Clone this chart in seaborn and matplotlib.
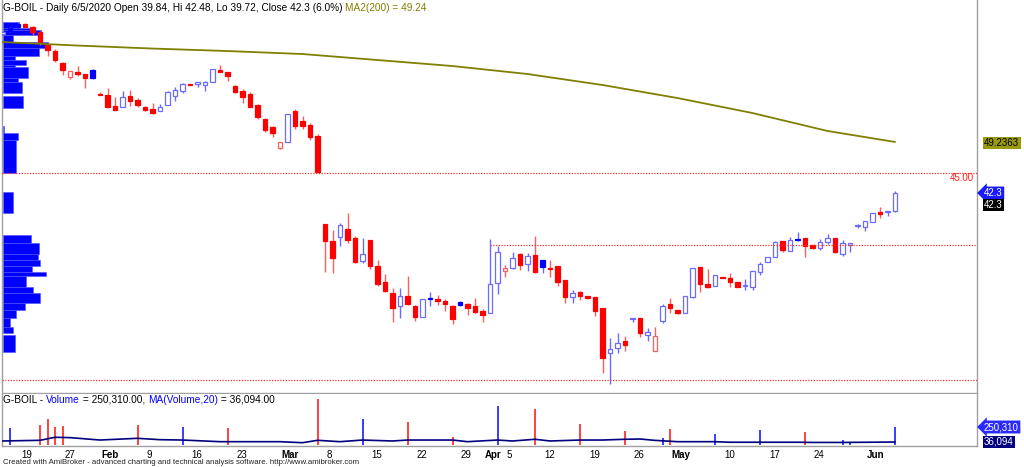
import numpy as np
import matplotlib
matplotlib.use('Agg')
import matplotlib.pyplot as plt
import matplotlib.transforms as mtransforms
from matplotlib.text import Annotation
import seaborn as sns

sns.set_style('white')
plt.rcParams['font.family'] = ['Liberation Sans', 'DejaVu Sans']

# daily OHLC (bar 0 = mid January, bar 119 = 6/5/2020)
opens = [63.99, 64.75, 65.40, 65.35, 64.98, 64.30, 62.48, 61.70, 60.07, 58.07,
         58.84, 58.48, 59.07, 55.79, 55.65, 54.15, 53.97, 55.52, 54.97, 54.05,
         53.70, 53.51, 54.29, 55.52, 56.24, 57.16, 57.11, 57.02, 57.39, 59.07,
         58.75, 56.88, 56.24, 55.79, 54.29, 52.37, 51.32, 48.37, 49.19, 53.51,
         52.14, 51.56, 50.09, 38.03, 35.71, 36.30, 37.35, 36.08, 32.98, 35.85,
         32.30, 30.07, 28.56, 26.83, 28.24, 26.87, 25.37, 27.88, 27.75, 27.55,
         26.83, 27.42, 27.06, 26.83, 26.15, 25.83, 29.93, 31.65, 31.98, 33.93,
         32.57, 33.80, 33.11, 32.06, 32.30, 30.38, 28.10, 28.78, 28.20, 28.02,
         26.52, 20.37, 21.05, 22.09, 24.99, 25.15, 22.83, 20.73, 24.78, 27.10,
         26.28, 25.83, 28.02, 32.20, 29.84, 29.60, 30.75, 30.70, 30.11, 29.52,
         29.47, 31.52, 32.80, 33.48, 35.71, 34.38, 35.94, 36.16, 35.16, 34.71,
         35.61, 36.08, 33.93, 35.16, 37.72, 37.66, 38.35, 39.71, 39.63, 39.84]
highs = [64.40, 64.90, 65.50, 65.49, 65.08, 64.40, 62.55, 61.94, 60.16, 59.00,
         59.61, 58.52, 59.20, 56.10, 56.57, 55.34, 56.20, 56.34, 55.20, 54.15,
         54.52, 54.42, 56.20, 56.70, 57.33, 57.16, 57.43, 57.50, 59.20, 59.75,
         58.80, 57.02, 56.43, 56.10, 54.42, 52.51, 51.42, 49.27, 53.06, 53.70,
         52.83, 51.87, 50.28, 38.10, 37.21, 38.21, 39.49, 36.43, 36.08, 35.85,
         33.11, 31.16, 29.25, 29.25, 30.93, 26.97, 27.79, 28.70, 28.33, 27.75,
         26.97, 27.51, 27.20, 27.88, 26.42, 35.98, 35.07, 32.43, 34.25, 34.07,
         34.03, 36.39, 33.11, 33.11, 32.30, 30.38, 29.01, 28.88, 28.20, 28.06,
         26.56, 22.42, 23.18, 22.73, 25.19, 25.19, 23.78, 23.92, 27.10, 27.88,
         26.35, 28.20, 32.02, 32.20, 31.84, 31.06, 30.75, 31.38, 30.11, 30.48,
         31.61, 32.88, 33.52, 35.71, 35.71, 36.30, 36.90, 36.16, 35.16, 35.94,
         36.63, 36.12, 35.85, 35.48, 38.03, 38.48, 39.58, 40.39, 39.85, 42.48]
lows = [63.85, 64.30, 64.90, 64.81, 63.85, 62.48, 61.02, 60.12, 58.39, 57.84,
        58.25, 56.57, 57.84, 55.59, 53.88, 53.54, 53.97, 54.15, 53.97, 53.47,
        53.02, 53.51, 54.29, 54.87, 55.97, 57.02, 56.70, 56.24, 57.39, 58.80,
        57.57, 55.97, 54.52, 53.97, 52.33, 50.64, 49.96, 48.24, 49.19, 51.01,
        50.97, 49.51, 45.13, 31.52, 31.38, 35.07, 35.48, 32.66, 32.66, 31.89,
        29.60, 28.70, 24.69, 25.15, 26.97, 24.82, 25.33, 26.83, 26.97, 26.15,
        24.33, 26.83, 25.60, 25.87, 24.69, 25.83, 28.43, 30.83, 31.88, 31.75,
        31.65, 31.38, 31.30, 30.75, 29.56, 27.28, 27.28, 27.65, 27.79, 25.46,
        17.72, 16.17, 20.37, 20.73, 24.69, 22.64, 22.09, 20.73, 24.55, 25.91,
        25.80, 25.83, 27.88, 28.78, 29.29, 29.60, 30.66, 29.47, 29.43, 29.01,
        29.01, 31.07, 32.80, 33.48, 34.25, 34.38, 35.75, 33.57, 34.62, 34.48,
        35.30, 34.11, 33.66, 34.25, 37.44, 37.12, 38.35, 38.81, 39.12, 39.72]
closes = [64.30, 64.45, 65.00, 64.94, 64.22, 62.93, 61.80, 60.43, 59.07, 58.93,
          58.48, 57.93, 58.04, 55.65, 53.97, 53.60, 55.34, 54.87, 54.29, 53.60,
          53.15, 54.05, 56.10, 56.34, 57.16, 57.07, 57.39, 57.43, 59.16, 58.84,
          58.25, 56.10, 55.42, 54.05, 52.69, 50.87, 50.42, 49.27, 53.02, 51.42,
          51.42, 49.96, 45.18, 35.71, 33.35, 37.89, 35.85, 32.88, 33.89, 32.30,
          29.84, 28.88, 26.52, 28.20, 27.06, 25.37, 27.75, 27.79, 27.55, 27.06,
          25.05, 26.97, 26.52, 25.97, 25.60, 29.84, 34.17, 31.98, 33.35, 32.43,
          33.66, 31.52, 32.12, 31.88, 30.15, 28.02, 28.56, 28.20, 27.88, 26.19,
          19.77, 20.91, 21.73, 21.50, 25.15, 23.10, 23.24, 22.73, 26.83, 26.52,
          25.91, 28.20, 31.98, 29.84, 29.39, 31.06, 30.66, 30.15, 29.47, 29.56,
          31.61, 32.57, 33.48, 35.53, 34.48, 35.85, 35.87, 35.07, 34.71, 35.53,
          36.16, 34.25, 35.40, 35.44, 37.76, 38.48, 39.58, 39.40, 39.85, 42.30]

# MA(200) of close, read at a few bars
ma_bar = [0, 10, 20, 30, 40, 50, 60, 70, 80, 90, 100, 110, 119]
ma_value = [62.89, 62.41, 62.00, 61.66, 61.25, 60.43, 59.61, 58.52, 57.02, 55.24, 53.19, 50.74, 49.24]

# volume (only the bars that show a visible stick)
vol_bar = [1, 5, 6, 7, 8, 18, 24, 30, 42, 48, 54, 60, 66, 71, 77, 83, 88, 89,
           95, 101, 107, 112, 113, 119]
vol_value = [244000, 284000, 371000, 259000, 269000, 284000, 259000, 244000,
             662000, 371000, 323000, 105000, 560000, 512000, 298000, 196000,
             90000, 221000, 153000, 211000, 178000, 65000, 20000, 250310]
vma_bar = [0, 5, 7, 9, 13, 18, 21, 24, 29, 37, 40, 42, 45, 48, 52, 54, 60, 62,
           66, 68, 71, 73, 77, 80, 83, 85, 87, 90, 95, 97, 106, 108, 112, 119]
vma_value = [51e3, 61e3, 105e3, 100e3, 65e3, 90e3, 70e3, 65e3, 41e3, 41e3, 26e3,
             61e3, 41e3, 65e3, 51e3, 65e3, 65e3, 41e3, 65e3, 51e3, 76e3, 51e3,
             65e3, 65e3, 76e3, 80e3, 60e3, 41e3, 41e3, 33e3, 33e3, 30e3, 30e3, 36094]

# volume-at-price profile on the left: price band and relative size
vap_top = [65.56, 64.87, 64.53, 63.85, 62.89, 62.07, 60.98, 60.43, 59.75, 59.48,
           57.98, 57.43, 55.52, 51.42, 50.46, 49.51, 42.40, 36.53, 35.44, 33.93,
           33.11, 32.29, 31.47, 30.93, 29.43, 28.61, 27.24, 26.28, 25.19, 23.96, 22.87]
vap_bottom = [64.87, 64.53, 63.85, 62.89, 62.07, 60.98, 60.43, 59.75, 59.48, 57.98,
              57.43, 55.93, 53.88, 50.46, 49.51, 45.00, 39.53, 35.44, 33.93, 33.11,
              32.29, 31.47, 30.93, 29.43, 28.61, 27.24, 26.28, 25.19, 23.96, 23.14, 20.55]
vap_size = [16, 27, 38, 10, 45, 36, 12, 23, 12, 25, 15, 19, 20, 1, 15, 13, 10, 28,
            36, 35, 37, 29, 43, 23, 30, 37, 22, 13, 7, 10, 12]

# horizontal study lines
level_top = 45.00
level_mid = 35.16
level_mid_start = 65
level_low = 16.72

tick_bar = [2.3, 8.1, 13, 19, 25, 31, 37, 43, 49, 55, 60.9, 64.1, 67, 72, 78,
            84, 89, 96, 102, 108, 115]
tick_label = ['19', '27', 'Feb', '9', '16', '23', 'Mar', '8', '15', '22', '29',
              'Apr', '5', '12', '19', '26', 'May', '10', '17', '24', 'Jun']
month_names = {'Feb', 'Mar', 'Apr', 'May', 'Jun'}

W, H = 1024, 467
fig = plt.figure(figsize=(W / 100, H / 100), dpi=100)


def px_rect(x0, y0, x1, y1):
    return [x0 / W, 1 - y1 / H, (x1 - x0) / W, (y1 - y0) / H]


ax = fig.add_axes(px_rect(2, 0, 977, 393))
axv = fig.add_axes(px_rect(2, 394, 977, 445.5), sharex=ax)

x_left, x_right = -0.5 / 7.5, 974.5 / 7.5
ax.set_xlim(x_left, x_right)
ax.set_ylim(14.95, 68.63)
axv.set_ylim(-14550, 734775)

grey = '#a0a0a0'
for a in (ax, axv):
    for side in a.spines:
        a.spines[side].set_color(grey)
        a.spines[side].set_linewidth(1)
    a.set_yticks([])
ax.spines['top'].set_visible(False)
axv.spines['top'].set_visible(False)
ax.tick_params(bottom=False, labelbottom=False)

# ---- price panel ----
o = np.array(opens)
h = np.array(highs)
l = np.array(lows)
c = np.array(closes)
bars = np.arange(len(c))
prev = np.r_[o[0], c[:-1]]
up = c > prev
hollow = c >= o

faces, edges, wicks = [], [], []
for u, hol in zip(up, hollow):
    base = '#0000ff' if u else '#ff0000'
    light = '#6b6bff' if u else '#ff5c5c'
    faces.append('white' if hol else base)
    edges.append(light if hol else base)
    wicks.append(light)

bottoms = np.minimum(o, c)
heights = np.maximum(np.abs(c - o), 0.12)

# volume at price blocks (drawn under the candles)
vt = np.array(vap_top)
vb = np.array(vap_bottom)
ax.barh((vt + vb) / 2, np.array(vap_size) / 7.5, height=vt - vb, left=0.067,
        color='#0000ff', edgecolor='#4d4dff', linewidth=0.4, zorder=1)

ax.vlines(bars, l, h, colors=wicks, linewidth=1, zorder=2)
ax.bar(bars, heights, bottom=bottoms, width=0.62, color=faces, edgecolor=edges,
       linewidth=0.9, zorder=3)

sns.lineplot(x=ma_bar, y=ma_value, ax=ax, color='#808000', linewidth=1.3, zorder=4)

dots = (0, (1, 1.2))
ax.hlines(level_top, x_left, x_right, colors='#ff3030', linestyles=dots, linewidth=0.9, zorder=4)
ax.hlines(level_mid, level_mid_start, x_right, colors='#ff3030', linestyles=dots, linewidth=0.9, zorder=4)
ax.hlines(level_low, x_left, x_right, colors='#ff3030', linestyles=dots, linewidth=0.9, zorder=4)

ax.text(0.997, level_top, f'{level_top:.2f}', transform=ax.get_yaxis_transform(),
        ha='right', va='top', color='#ff2020', fontsize=7)

# ---- volume panel ----
vol_colors = ['#1a1aff' if up[i] else '#ff2020' for i in vol_bar]
axv.vlines(vol_bar, 0, vol_value, colors=vol_colors, linewidth=1.2, zorder=3)
sns.lineplot(x=vma_bar, y=vma_value, ax=axv, color='#000080', linewidth=1.2, zorder=4)
axv.set_xlim(x_left, x_right)

axv.set_xticks(tick_bar)
axv.set_xticklabels(tick_label)
axv.tick_params(axis='x', direction='out', length=2.5, width=0.8, color=grey,
                pad=0.5, labelsize=7, labelcolor='black')
shift = mtransforms.ScaledTranslation(1.5 / 100, 0, fig.dpi_scale_trans)
for lbl in axv.get_xticklabels():
    lbl.set_ha('left')
    lbl.set_transform(lbl.get_transform() + shift)
    if lbl.get_text() in month_names:
        lbl.set_fontweight('bold')


# ---- header lines, pieces in different colours placed one after another ----
def header_line(x_px, y_px, parts, size):
    t = fig.text(x_px / W, 1 - y_px / H, parts[0][0], color=parts[0][1],
                 fontsize=size, ha='left', va='center')
    for s, col in parts[1:]:
        t = fig.add_artist(Annotation(s, xy=(1, 0), xycoords=t, va='bottom', ha='left',
                                      color=col, fontsize=size, annotation_clip=False))


header_line(3, 8, [('G-BOIL - Daily 6/5/2020 Open 39.84, Hi 42.48, Lo 39.72, Close 42.3 (6.0%) ', 'black'),
                   ('MA2(200) = 49.24', '#808000')], 7.3)
header_line(3, 400, [('G-BOIL - ', 'black'), ('Volume', '#0000ff'), (' = 250,310.00, ', 'black'),
                     ('MA(Volume,20)', '#0000ff'), (' = 36,094.00', 'black')], 7.3)
fig.text(3 / W, 1 - 462 / H,
         'Created with AmiBroker - advanced charting and technical analysis software. http://www.amibroker.com',
         fontsize=5.6, color='#222222', ha='left', va='center')


# ---- right-hand value labels ----
def value_box(y_px, text, bg, fg, arrow=False, x_px=984):
    style = 'larrow,pad=0.15' if arrow else 'square,pad=0.15'
    fig.text(x_px / W, 1 - y_px / H, text, color=fg, fontsize=7, ha='left', va='center',
             bbox=dict(boxstyle=style, facecolor=bg, edgecolor='none'))


value_box(143, f'{49.2363:.4f}', '#9a9a10', 'black')
value_box(193, f'{closes[-1]:.1f}', '#1a1aff', 'white', arrow=True)
value_box(205, f'{closes[-1]:.1f}', 'black', 'white')
value_box(427, f'{vol_value[-1]:,}', '#2a2aff', 'white', arrow=True)
value_box(442, f'{vma_value[-1]:,.0f}', '#000080', 'white')

fig.savefig('out.png', dpi=100)
